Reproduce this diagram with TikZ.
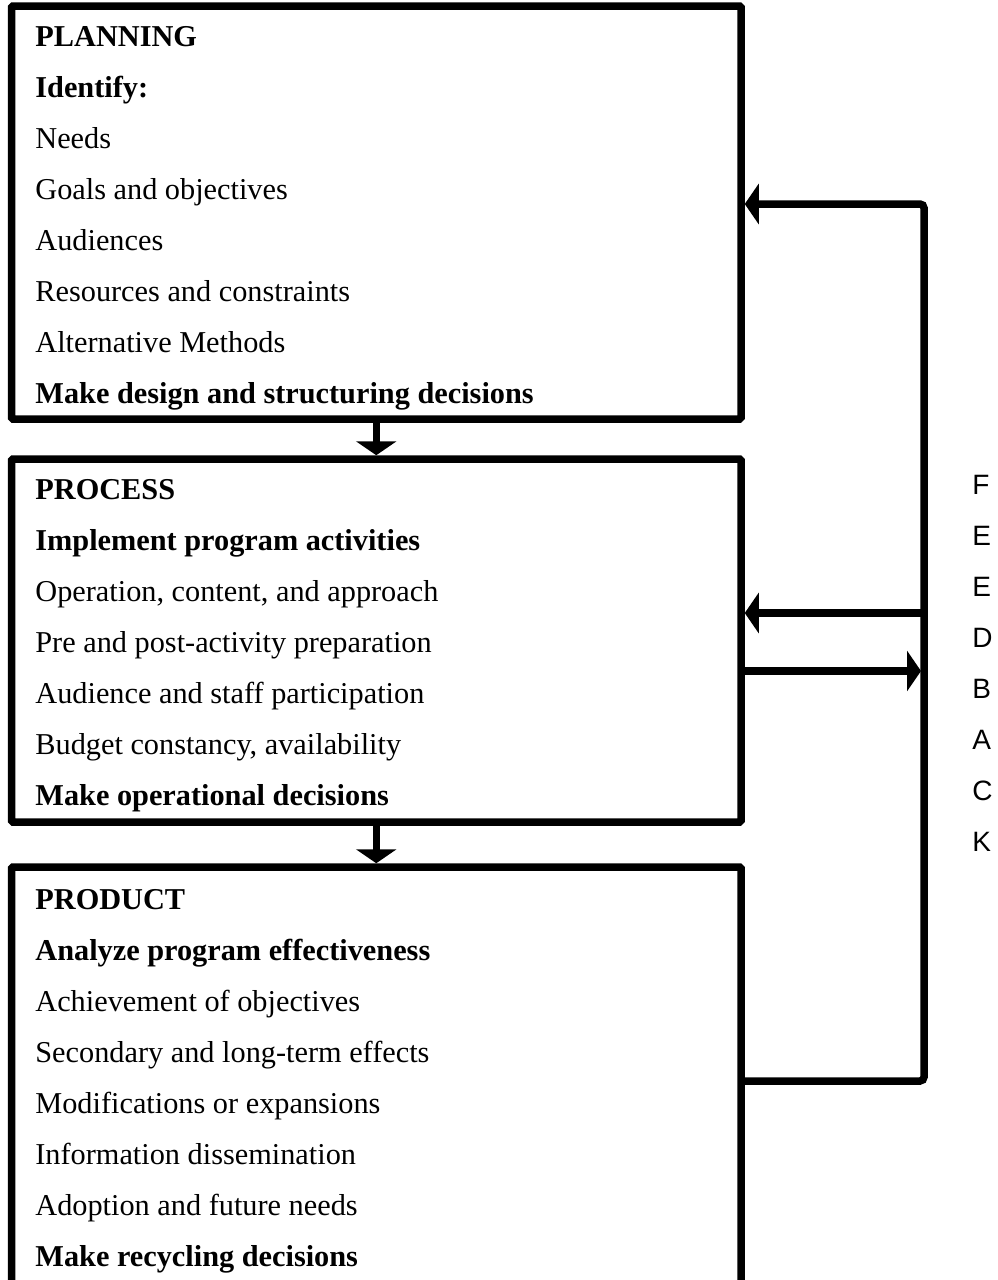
\documentclass[tikz,border=0pt]{standalone}
\usepackage{fontspec}
\setmainfont{Liberation Serif}
\newfontfamily\lettersans{Liberation Sans}
\usetikzlibrary{arrows.meta,positioning}

\begin{document}
\begin{tikzpicture}[
  x=0.5pt,y=-0.5pt,
  >={Triangle[length=7pt,width=20pt]},
  stage/.style={draw,line width=3.75pt,rounded corners=0.75pt,inner sep=0pt,minimum width=364.75pt},
  stagetext/.style={anchor=north west,inner sep=0pt,align=left,font=\fontsize{15.15}{25.5}\selectfont},
  flow/.style={->,line width=3.75pt},
  tag/.style={anchor=base west,inner sep=0pt,font=\lettersans\fontsize{14}{16}\selectfont}
]
  \useasboundingbox (0,0) rectangle (997,1280);

  % the three stages
  \node[stage,minimum height=206.5pt] (planning) at (376.25,212.5) {};
  \node[stage,minimum height=181.5pt] (process) at (376.25,640.5) {};
  \node[stage,minimum height=216.5pt] (product) at (376.25,1083.5) {};

  \node[stagetext] (planningtext) at (35,26.2)
    {\textbf{PLANNING}\\
    \textbf{Identify:}\\
    Needs\\
    Goals and objectives\\
    Audiences\\
    Resources and constraints\\
    Alternative Methods\\
    \textbf{Make design and structuring decisions}};
  \node[stagetext] (processtext) at (35,479.2)
    {\textbf{PROCESS}\\
    \textbf{Implement program activities}\\
    Operation, content, and approach\\
    Pre and post-activity preparation\\
    Audience and staff participation\\
    Budget constancy, availability\\
    \textbf{Make operational decisions}};
  \node[stagetext] (producttext) at (35,889.2)
    {\textbf{PRODUCT}\\
    \textbf{Analyze program effectiveness}\\
    Achievement of objectives\\
    Secondary and long-term effects\\
    Modifications or expansions\\
    Information dissemination\\
    Adoption and future needs\\
    \textbf{Make recycling decisions}};

  % downward flow
  \draw[flow] (planning) -- (process);
  \draw[flow] (process) -- (product);

  % feedback loop on the right
  \coordinate (looptop) at (924,204);
  \coordinate (loopbot) at (924,1081);
  \coordinate (backtap) at (924,613);
  \coordinate (fwdtap) at (921,671);
  \draw[flow,rounded corners=2pt] (product.east |- loopbot) -- (loopbot) -- (looptop) -- (planning.east |- looptop);
  \draw[flow] (backtap) -- (process.east |- backtap);
  \draw[flow] (process.east |- fwdtap) -- (fwdtap);

  % letters
  \node[tag] (tagF) at (972,494) {F};
  \node[tag] (tagEa) at (972,545) {E};
  \node[tag] (tagEb) at (972,596) {E};
  \node[tag] (tagD) at (972,647) {D};
  \node[tag] (tagB) at (972,698) {B};
  \node[tag] (tagA) at (972,749) {A};
  \node[tag] (tagC) at (972,800) {C};
  \node[tag] (tagK) at (972,851) {K};
\end{tikzpicture}
\end{document}
